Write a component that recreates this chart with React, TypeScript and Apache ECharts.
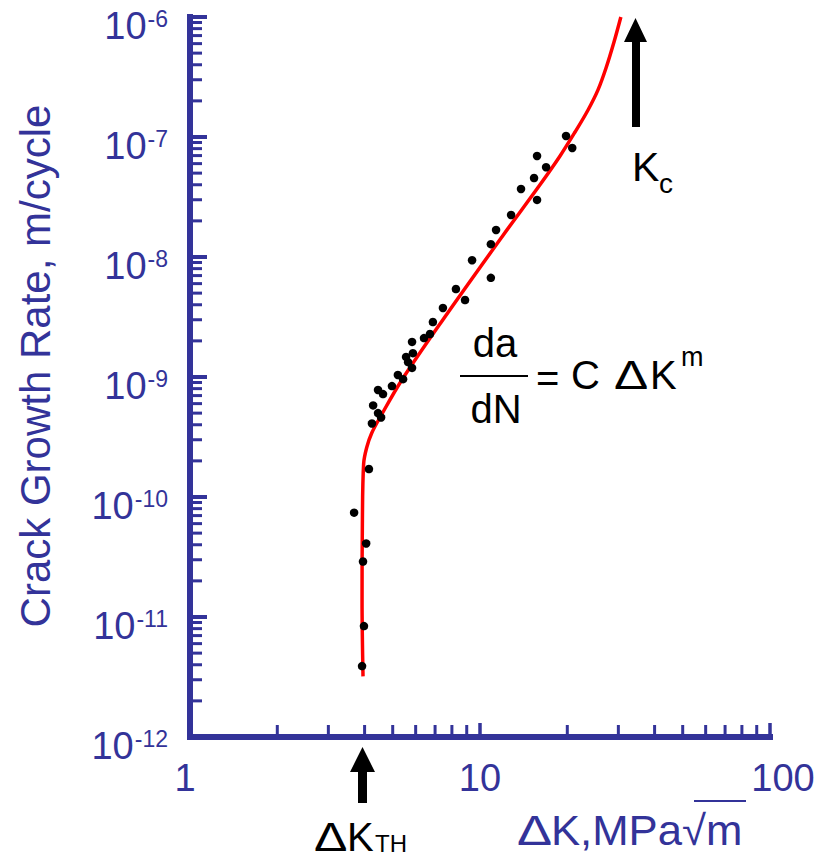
import React, { useEffect, useRef } from 'react';
import * as echarts from 'echarts';

const BLUE = '#333399';
const FONT = '"Liberation Sans", Arial, Helvetica, sans-serif';

// Measured crack growth data: stress intensity range (MPa·√m) and da/dN (m/cycle)
const deltaK = [3.92, 3.98, 3.95, 4.05, 3.68, 4.14, 4.24, 4.28, 4.45, 4.56, 4.45, 4.63, 4.97, 5.21, 5.43, 5.83, 5.65, 5.56, 5.87, 5.83, 6.41, 6.72, 6.88, 7.45, 8.26, 8.88, 9.39, 10.9, 10.9, 11.36, 12.8, 13.85, 15.73, 15.36, 16.9, 15.73, 19.8, 20.8];
const growthRate = [3.9e-12, 8.4e-12, 2.9e-11, 4.1e-11, 7.4e-11, 1.71e-10, 4.1e-10, 5.8e-10, 5.0e-10, 4.6e-10, 7.8e-10, 7.2e-10, 8.4e-10, 1.04e-9, 9.6e-10, 1.19e-9, 1.33e-9, 1.47e-9, 1.58e-9, 1.96e-9, 2.11e-9, 2.28e-9, 2.87e-9, 3.76e-9, 5.41e-9, 4.38e-9, 9.4e-9, 1.28e-8, 6.7e-9, 1.68e-8, 2.24e-8, 3.69e-8, 2.99e-8, 4.55e-8, 5.6e-8, 6.95e-8, 1.02e-7, 8.1e-8];

// Fitted sigmoidal curve
const curveK = [3.95, 3.92, 3.93, 3.97, 4.07, 4.23, 4.52, 5.37, 7.45, 11.9, 16.1, 18.88, 21.27, 23.58, 25.52, 27.2, 28.98, 30.6];
const curveRate = [3.2e-12, 1.4e-11, 6e-11, 1.9e-10, 2.6e-10, 3.4e-10, 4.6e-10, 9.4e-10, 3.0e-9, 1.47e-8, 4.0e-8, 6.95e-8, 1.1e-7, 1.68e-7, 2.47e-7, 3.76e-7, 6.19e-7, 1.0e-6];

// Axis structure
const xMin = 1;
const xMax = 100;
const yMin = 1e-12;
const yMax = 1e-6;
const minorMantissas = [2, 3, 4, 5, 6, 7, 8, 9];
const xMinorDecades = [0, 1];
const yMinorDecades = [-12, -11, -10, -9, -8, -7];

const xMinorTicks: number[] = [];
xMinorDecades.forEach((d) => minorMantissas.forEach((m) => xMinorTicks.push(m * Math.pow(10, d))));
const yMinorTicks: number[] = [];
yMinorDecades.forEach((d) => minorMantissas.forEach((m) => yMinorTicks.push(m * Math.pow(10, d))));

const txt = (text: string, x: number, y: number, size: number, fill: string, align = 'left', extra: any = {}) => ({
  type: 'text',
  x,
  y,
  ...extra,
  style: { text, fontSize: size, fontFamily: FONT, fill, textAlign: align, textVerticalAlign: 'middle' },
  z: 100,
});

export default function App() {
  const ref = useRef<HTMLDivElement>(null);

  useEffect(() => {
    document.body.style.margin = '0';
    const chart = echarts.init(ref.current!, null, { renderer: 'svg' });

    const option: any = {
      animation: false,
      backgroundColor: '#ffffff',
      grid: { left: 190, right: 53, top: 17, bottom: 123, containLabel: false, outerBoundsMode: 'none' },
      xAxis: {
        type: 'log',
        logBase: 10,
        min: xMin,
        max: xMax,
        splitLine: { show: false },
        axisLine: { show: true, lineStyle: { color: BLUE, width: 6, cap: 'square' } },
        axisTick: { show: true, inside: true, length: 14, lineStyle: { color: BLUE, width: 3.5 } },
        axisLabel: {
          margin: 22,
          color: BLUE,
          fontSize: 38,
          fontFamily: FONT,
          formatter: (v: number) => {
            const r = Math.round(v);
            if (r === 1) return '{l|1}';
            if (r === 100) return '{r|100}';
            return '{n|' + r + '}';
          },
          rich: {
            l: { fontSize: 38, fontFamily: FONT, color: BLUE, padding: [0, 10, 0, 0] },
            n: { fontSize: 38, fontFamily: FONT, color: BLUE },
            r: { fontSize: 38, fontFamily: FONT, color: BLUE, padding: [0, 0, 0, 26] },
          },
        },
      },
      yAxis: {
        type: 'log',
        logBase: 10,
        min: yMin,
        max: yMax,
        splitLine: { show: false },
        axisLine: { show: true, lineStyle: { color: BLUE, width: 6, cap: 'square' } },
        axisTick: { show: true, inside: true, length: 17, lineStyle: { color: BLUE, width: 4 } },
        axisLabel: {
          margin: 22,
          padding: [18, 0, 0, 0],
          formatter: (v: number) => '{b|10}{s|' + Math.round(Math.log10(v)) + '}',
          rich: {
            b: { fontSize: 38, fontFamily: FONT, color: BLUE },
            s: { fontSize: 23, fontFamily: FONT, color: BLUE, verticalAlign: 'top', padding: [0, 0, 0, 1] },
          },
        },
      },
      series: [
        {
          type: 'custom',
          name: 'yMinor',
          coordinateSystem: 'cartesian2d',
          silent: true,
          clip: false,
          data: yMinorTicks.map((v) => [xMin, v]),
          renderItem: (_p: any, api: any) => {
            const p = api.coord([api.value(0), api.value(1)]);
            return { type: 'line', shape: { x1: p[0], y1: p[1], x2: p[0] + 12, y2: p[1] }, style: { stroke: BLUE, lineWidth: 3 } };
          },
          z: 3,
        },
        {
          type: 'custom',
          name: 'xMinor',
          coordinateSystem: 'cartesian2d',
          silent: true,
          clip: false,
          data: xMinorTicks.map((v) => [v, yMin]),
          renderItem: (_p: any, api: any) => {
            const p = api.coord([api.value(0), api.value(1)]);
            return { type: 'line', shape: { x1: p[0], y1: p[1], x2: p[0], y2: p[1] - 12 }, style: { stroke: BLUE, lineWidth: 3 } };
          },
          z: 3,
        },
        {
          type: 'line',
          name: 'fit',
          data: curveK.map((k, i) => [k, curveRate[i]]),
          smooth: 0.35,
          showSymbol: false,
          symbol: 'none',
          lineStyle: { color: '#ff0000', width: 3.5 },
          z: 4,
        },
        {
          type: 'scatter',
          name: 'data',
          data: deltaK.map((k, i) => [k, growthRate[i]]),
          symbol: 'circle',
          symbolSize: 8.5,
          itemStyle: { color: '#000000', opacity: 1 },
          z: 5,
        },
      ],
      graphic: [
        txt('Crack Growth Rate, m/cycle', 35, 366, 42, BLUE, 'center', { rotation: Math.PI / 2 }),
        txt('\u0394', 517, 830, 42, BLUE, 'left', { scaleX: 1.25 }),
        txt('K,MPa\u221Am', 551, 830, 42, BLUE, 'left', { scaleX: 1.04 }),
        { type: 'line', shape: { x1: 694, y1: 801, x2: 746, y2: 801 }, style: { stroke: BLUE, lineWidth: 2 }, z: 100 },
        // formula
        txt('da', 495, 343, 40, '#000', 'center'),
        { type: 'line', shape: { x1: 460, y1: 376, x2: 528, y2: 376 }, style: { stroke: '#000', lineWidth: 2 }, z: 100 },
        txt('dN', 496, 409, 40, '#000', 'center'),
        txt('=', 536, 378, 40, '#000'),
        txt('C', 571, 375, 40, '#000'),
        txt('\u0394', 614, 375, 41, '#000', 'left', { scaleX: 1.25 }),
        txt('K', 650, 375, 40, '#000'),
        txt('m', 681, 357, 27, '#000'),
        // Kc
        {
          type: 'polygon',
          shape: { points: [[632, 127], [640, 127], [640, 42], [647, 42], [635.5, 18], [624, 42], [632, 42]] },
          style: { fill: '#000' },
          z: 100,
        },
        txt('K', 632, 167, 41, '#000'),
        txt('c', 659, 183, 28, '#000'),
        // ΔK_TH
        {
          type: 'polygon',
          shape: { points: [[358, 803], [367, 803], [367, 772], [375, 772], [362.5, 747], [350, 772], [358, 772]] },
          style: { fill: '#000' },
          z: 100,
        },
        txt('\u0394', 314, 837, 40, '#000', 'left', { scaleX: 1.25 }),
        txt('K', 347, 837, 40, '#000'),
        txt('TH', 375, 843, 24, '#000'),
      ],
    };

    chart.setOption(option);
    return () => chart.dispose();
  }, []);

  return <div ref={ref} style={{ width: 823, height: 860, position: 'absolute', left: 0, top: 0 }} />;
}
